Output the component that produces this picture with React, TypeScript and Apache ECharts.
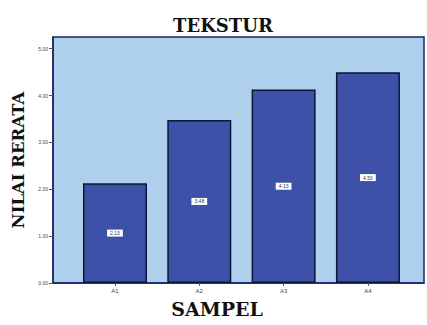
import React, { useEffect, useRef } from "react";
import * as echarts from "echarts";

const categories = ["A1", "A2", "A3", "A4"];
const values = [2.13, 3.48, 4.13, 4.5];
const yTicks = [0, 1, 2, 3, 4, 5];

export default function App() {
  const ref = useRef<HTMLDivElement>(null);
  useEffect(() => {
    if (!ref.current) return;
    const chart = echarts.init(ref.current, null, { renderer: "svg" });
    const pos = categories.map((_, i) => i + 1);
    const serif = "DejaVu Serif";
    chart.setOption({
      animation: false,
      backgroundColor: "#ffffff",
      title: {
        text: "TEKSTUR",
        left: 218,
        textAlign: "center",
        top: 11,
        textStyle: {
          fontFamily: serif,
          fontWeight: "bold",
          fontSize: 18,
          color: "#111111",
        },
      },
      graphic: [
        {
          type: "text",
          x: 217,
          y: 299,
          style: {
            text: "SAMPEL",
            fontFamily: serif,
            fontWeight: "bold",
            fontSize: 19,
            fill: "#111111",
            align: "center",
            verticalAlign: "top",
          },
        },
      ],
      grid: {
        left: 53,
        right: 3,
        top: 37,
        bottom: 42,
        show: true,
        backgroundColor: "#AFD0EC",
        borderColor: "#1b2466",
        borderWidth: 1.5,
      },
      xAxis: {
        type: "value",
        min: 0.265,
        max: 4.665,
        splitLine: { show: false },
        axisLine: { show: true, lineStyle: { color: "#1b2466", width: 1.5 } },
        axisTick: {
          show: true,
          length: 3,
          customValues: pos,
          lineStyle: { color: "#555555" },
        },
        axisLabel: {
          customValues: pos,
          formatter: (v: number) => categories[Math.round(v) - 1] ?? "",
          fontSize: 6,
          color: "#444444",
          margin: 5,
        },
      },
      yAxis: {
        type: "value",
        min: 0,
        max: 5.25,
        interval: 1,
        name: "NILAI RERATA",
        nameLocation: "middle",
        nameGap: 24,
        nameRotate: 90,
        nameTextStyle: {
          fontFamily: serif,
          fontWeight: "bold",
          fontSize: 16.5,
          color: "#111111",
        },
        splitLine: { show: false },
        axisLine: { show: true, lineStyle: { color: "#1b2466", width: 1.5 } },
        axisTick: {
          show: true,
          length: 4,
          customValues: yTicks,
          lineStyle: { color: "#555555" },
        },
        axisLabel: {
          customValues: yTicks,
          formatter: (v: number) => v.toFixed(2),
          fontSize: 5,
          color: "#444444",
          margin: 5,
        },
      },
      series: [
        {
          type: "bar",
          barWidth: 64,
          data: values.map((v, i) => [pos[i], v]),
          itemStyle: {
            color: "#3D51A8",
            borderColor: "#0d1436",
            borderWidth: 1.5,
          },
          label: {
            show: true,
            position: "inside",
            formatter: (p: any) => Number(p.value[1]).toFixed(2),
            backgroundColor: "#ffffff",
            color: "#333366",
            fontSize: 5,
            padding: [1, 3],
          },
        },
      ],
    });
    return () => chart.dispose();
  }, []);
  return (
    <div
      ref={ref}
      style={{ position: "fixed", left: 0, top: 0, width: 427, height: 325 }}
    />
  );
}
